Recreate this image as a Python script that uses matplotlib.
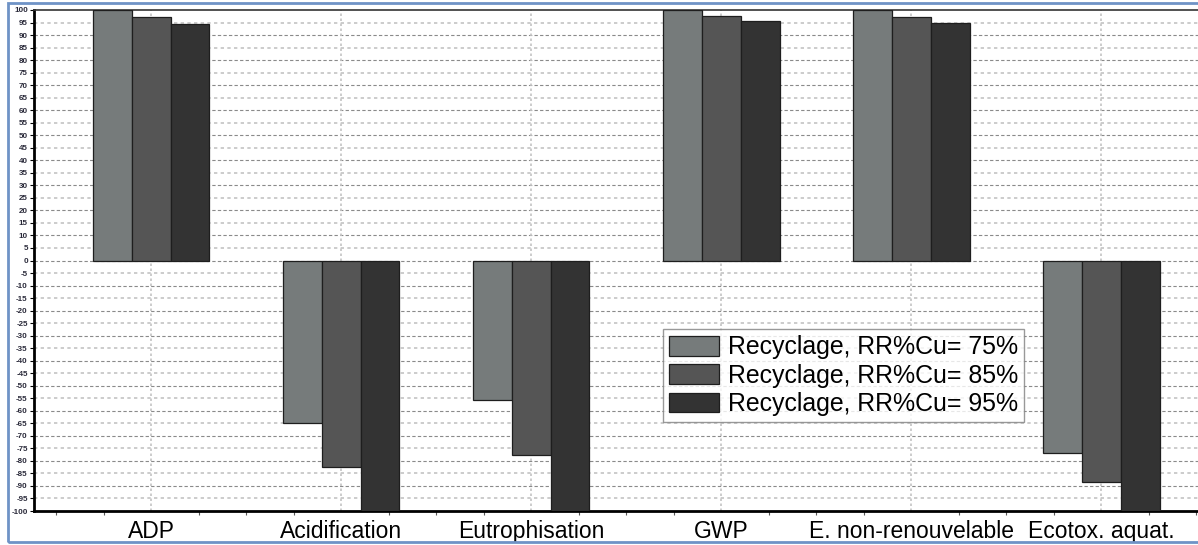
import matplotlib
matplotlib.use("Agg")
import matplotlib.pyplot as plt
from matplotlib.patches import Rectangle
import numpy as np

categories = ["ADP", "Acidification", "Eutrophisation", "GWP", "E. non-renouvelable", "Ecotox. aquat."]
series_names = ["Recyclage, RR%Cu= 75%", "Recyclage, RR%Cu= 85%", "Recyclage, RR%Cu= 95%"]
rr75 = [100, -65, -55.5, 100, 100, -77]
rr85 = [97.2, -82.3, -77.7, 97.8, 97.3, -88.4]
rr95 = [94.6, -100, -100, 95.7, 94.8, -100]
y_ticks = list(range(-100, 101, 5))

colors = ["#767b7b", "#555555", "#333333"]

plt.rcParams['font.family'] = ['Liberation Sans', 'DejaVu Sans']
fig = plt.figure(figsize=(11.98, 5.45), dpi=100)
W, H = 1198, 545
ax = fig.add_axes([34 / W, 34 / H, 1 - 34 / W, (511 - 10) / H])

x = np.arange(len(categories))
bw = 0.205
for i, (vals, name, c) in enumerate(zip([rr75, rr85, rr95], series_names, colors)):
    ax.bar(x + (i - 1) * bw, vals, width=bw, color=c, edgecolor="#1e1e1e",
           linewidth=0.9, label=name, zorder=3)

ax.set_xlim(-0.616, 5.51)
ax.set_ylim(-100, 100)

# horizontal grid
for v in y_ticks:
    if v in (-100, 100):
        continue
    if v % 10 == 0:
        ax.axhline(v, color="#8a8a8a", lw=0.8, ls=(0, (3, 2)), zorder=1)
    else:
        ax.axhline(v, color="#c4c4c4", lw=1.2, ls=(0, (2, 2)), zorder=1)
for xi in x:
    ax.axvline(xi, color="#c4c4c4", lw=1.2, ls=(0, (1.5, 1.5)), zorder=1)

ax.set_yticks(y_ticks)
ax.set_yticklabels([str(v) for v in y_ticks], fontsize=5.8, fontweight="bold", color="#2a2a3a")
ax.tick_params(axis="y", length=3, width=0.8, pad=1.5)

ax.set_xticks(x)
ax.set_xticklabels(categories, fontsize=16.5)
ax.tick_params(axis="x", length=0, pad=6.5)
ax.set_xticks(np.arange(-0.5, 5.51, 0.25), minor=True)
ax.tick_params(axis="x", which="minor", length=3, width=0.8, color="#555555")

for s in ["left", "bottom"]:
    ax.spines[s].set_linewidth(2)
    ax.spines[s].set_color("black")
ax.spines["top"].set_linewidth(1.2)
ax.spines["top"].set_color("#333333")
ax.spines["right"].set_visible(False)

leg = ax.legend(loc="upper left", bbox_to_anchor=((663 - 34) / (W - 34), (511 - 329) / 501),
                fontsize=17.9, frameon=True, fancybox=False, borderpad=0.25,
                handlelength=2.0, handleheight=0.85, handletextpad=0.35,
                labelspacing=0.18, borderaxespad=0)
leg.get_frame().set_edgecolor("#808080")
leg.get_frame().set_linewidth(1.0)
leg.set_zorder(5)

# outer blue frame
fig.patches.append(Rectangle((8 / W, 3 / H), 1.0, (542 - 3) / H, transform=fig.transFigure,
                             fill=False, edgecolor="#6f93c6", lw=2, zorder=0))

fig.savefig("out.png", dpi=100)
